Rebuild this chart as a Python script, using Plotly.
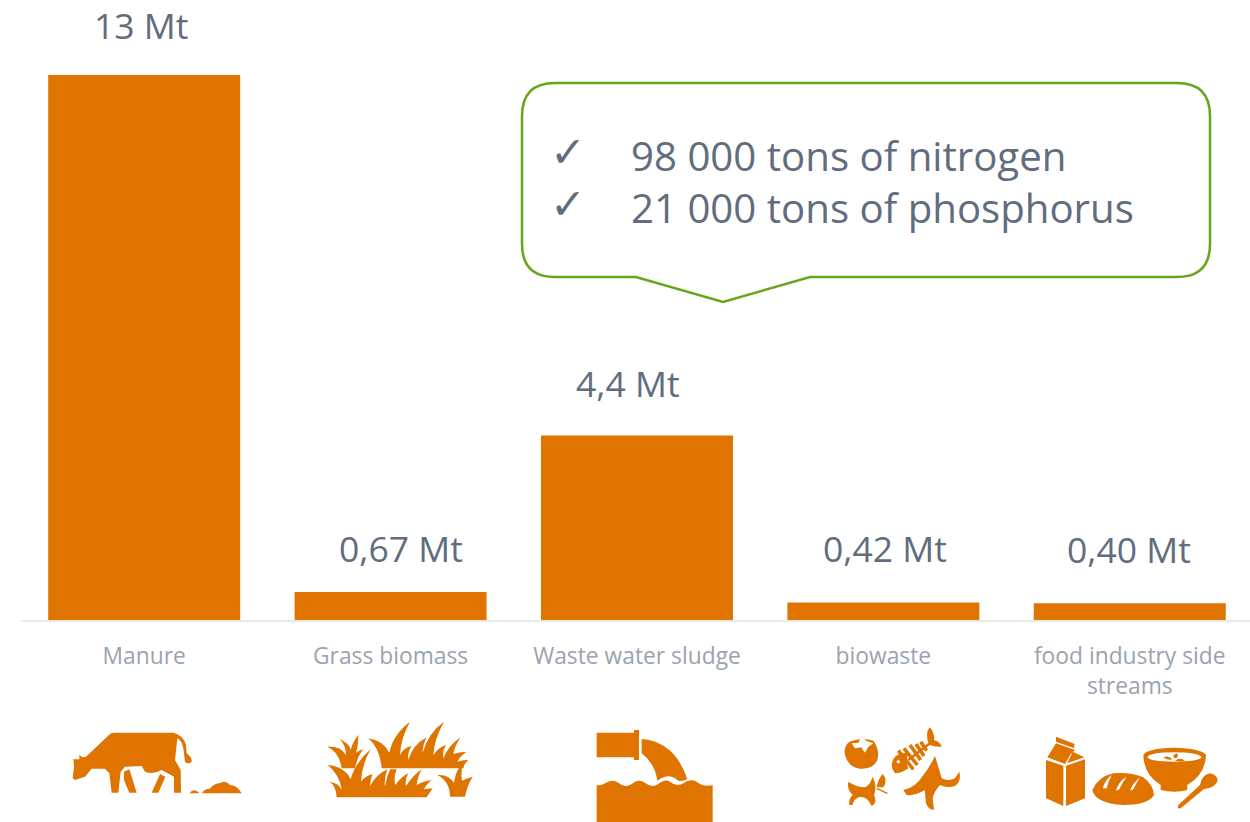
import re
import plotly.graph_objects as go

# ---------- data ----------
categories = ["Manure", "Grass biomass", "Waste water sludge", "biowaste", "food industry side<br>streams"]
values = [13, 0.67, 4.4, 0.42, 0.40]
value_labels = ["13 Mt", "0,67 Mt", "4,4 Mt", "0,42 Mt", "0,40 Mt"]
callout_lines = ["98 000 tons of nitrogen", "21 000 tons of phosphorus"]

# ---------- styles ----------
W, H = 1250, 822
ORANGE = "#df7400"
GREEN = "#69a51c"
TEXT = "#616d7e"
CAT = "#9aa3af"
FONT = "Open Sans, Noto Sans, sans-serif"
label_shift = [(-3, 50), (10, 44), (-9, 53), (2, 54), (-1, 54)]

fig = go.Figure(go.Bar(x=list(range(5)), y=values, marker=dict(color=ORANGE, line_width=0),
                       width=192 / 246.4, hoverinfo="skip"))

def P(x, y):
    return f"{x / W:.5f}", f"{1 - y / H:.5f}"

def tf(path, ox, oy):
    """Zoomed (3x) icon path -> paper coordinates."""
    nums = iter(re.findall(r"-?\d+\.?\d*|[A-Za-z]", path))
    out = []
    for tok in nums:
        if tok.isalpha():
            out.append(tok)
        else:
            x = ox + float(tok) / 3
            y = oy + float(next(nums)) / 3
            out.append(f"{x / W:.5f},{1 - y / H:.5f}")
    return " ".join(out)

shapes = []
def icon(path, ox, oy, color=ORANGE):
    shapes.append(dict(type="path", xref="paper", yref="paper", path=tf(path, ox, oy),
                       fillcolor=color, line=dict(width=0), layer="above"))
def stroke(path, ox, oy, width, color=ORANGE):
    shapes.append(dict(type="path", xref="paper", yref="paper", path=tf(path, ox, oy),
                       line=dict(color=color, width=width), layer="above"))

# cow and grass
o1 = (50, 710)
for p in [
    "M 70,148 L 88,148 L 88,134 L 97,142 L 108,140 L 180,72 Q 185,68 195,68 L 370,68 Q 400,75 408,105 L 410,130 Q 428,145 425,155 Q 415,165 405,155 L 400,115 Q 395,90 382,85 L 375,150 L 392,180 L 393,248 L 372,248 L 372,200 L 335,180 Q 310,195 285,185 L 275,168 L 225,170 L 212,185 L 205,248 L 185,248 L 178,190 L 165,176 L 125,176 L 105,200 L 75,210 L 68,205 L 72,170 Z",
    "M 222,185 L 238,178 L 260,248 L 238,248 L 222,210 Z",
    "M 330,192 L 346,200 L 325,248 L 305,248 Z",
    "M 418,250 Q 432,232 449,250 Z",
    "M 456,250 Q 460,236 480,236 Q 490,222 508,220 Q 525,208 540,225 Q 560,225 575,250 Z",
    "M 875,175 Q 868,125 832,110 Q 872,108 888,135 Q 888,108 870,88 Q 898,100 902,120 Q 908,95 925,75 Q 925,108 918,128 Q 928,120 940,118 Q 922,140 915,175 Z",
    "M 995,175 Q 990,115 955,85 Q 1000,92 1018,128 Q 1028,75 1080,35 Q 1052,85 1050,135 Q 1062,112 1085,108 Q 1072,125 1075,150 Q 1088,105 1130,82 Q 1118,105 1118,128 Q 1135,68 1182,35 Q 1152,88 1150,135 Q 1165,112 1188,105 Q 1176,122 1180,145 Q 1196,105 1232,82 Q 1214,108 1210,132 Q 1226,126 1250,125 Q 1228,140 1222,155 Q 1238,149 1255,150 Q 1243,160 1240,175 Z",
    "M 860,262 Q 858,225 838,215 Q 865,218 875,240 Q 870,195 833,165 Q 885,170 902,208 Q 915,158 962,118 Q 935,165 933,215 Q 944,198 968,192 Q 960,208 961,228 Q 976,195 1012,178 Q 1002,205 1005,230 Q 1010,200 1020,178 L 1040,178 Q 1030,205 1036,225 Q 1050,203 1075,190 Q 1064,208 1068,228 Q 1090,195 1115,178 Q 1102,202 1100,225 Q 1120,213 1145,210 Q 1127,225 1122,238 L 1148,235 L 1130,262 Z",
    "M 1200,260 Q 1200,215 1162,195 Q 1195,192 1212,218 Q 1216,188 1230,170 L 1238,160 Q 1232,192 1236,212 Q 1250,204 1268,200 Q 1252,225 1245,260 Z",
]:
    icon(p, *o1)

# pipe, tomato, fish, apple core, banana
o2 = (580, 710)
for p in [
    "M 50,68 L 162,68 L 162,60 L 177,60 L 177,150 L 162,150 L 162,142 L 50,142 Z",
    "M 185,87 Q 285,95 322,208 Q 305,215 295,212 Q 275,195 255,200 Q 240,205 232,212 Q 225,160 185,130 Z",
    "M 50,225 Q 62,228 75,220 Q 95,205 115,218 Q 135,235 155,222 Q 175,205 195,218 Q 215,235 235,222 Q 255,205 270,215 Q 290,232 310,220 Q 330,205 350,215 Q 370,232 398,225 L 398,336 L 50,336 Z",
    "M 808,95 Q 845,80 880,92 Q 900,120 892,150 Q 880,178 840,176 Q 805,172 795,135 Q 790,110 808,95 Z",
    "M 945,190 Q 925,165 945,140 Q 965,125 985,130 Q 975,160 985,175 Q 965,190 945,190 Z",
    "M 1045,98 Q 1035,65 1050,52 Q 1065,70 1062,90 Q 1080,95 1085,110 Q 1065,112 1050,105 Z",
    "M 1065,138 Q 1075,170 1085,205 Q 1105,215 1125,205 Q 1130,195 1138,185 Q 1145,215 1125,228 Q 1100,235 1080,225 Q 1062,245 1058,265 L 1062,300 Q 1045,300 1038,280 Q 1035,255 1035,240 Q 1005,258 980,255 L 970,240 Q 1005,235 1030,195 Q 1050,170 1065,138 Z",
    "M 805,215 Q 830,232 855,232 Q 870,225 878,200 Q 890,225 885,245 Q 880,255 885,265 Q 890,280 875,288 Q 860,255 835,262 Q 820,270 818,285 L 808,285 Q 805,265 818,255 Q 800,240 805,215 Z",
    "M 890,232 Q 895,205 908,192 Q 925,210 910,232 Z",
]:
    icon(p, *o2)
icon("M 815,100 L 835,98 L 845,78 L 858,92 L 880,100 L 865,110 L 855,128 L 843,112 L 825,115 Z", *o2, color="white")
icon("M 949,155 L 955,149 L 961,155 L 955,161 Z", *o2, color="white")
stroke("M 985,150 L 1050,100", *o2, 2.5)
for p in ["M 955,122 L 1000,178", "M 972,115 L 1012,165", "M 990,105 L 1022,150", "M 1008,102 L 1032,138", "M 1022,95 L 1040,122"]:
    stroke(p, *o2, 3.5)
stroke("M 890,235 L 922,250", *o2, 1.5)

# milk, bread, bowl, spoon
o3 = (1030, 720)
for p in [
    "M 48,120 L 100,137 L 100,258 L 48,235 Z",
    "M 108,137 L 165,118 L 165,235 L 108,258 Z",
    "M 52,112 L 78,70 L 135,90 L 122,103 L 105,132 Z",
    "M 112,130 L 128,95 L 163,112 Z",
    "M 78,50 L 134,72 L 132,85 L 78,65 Z",
    "M 187,210 Q 205,170 250,160 Q 300,155 340,172 Q 370,195 372,225 Q 355,255 280,255 Q 195,250 187,210 Z",
    "M 340,105 Q 350,85 432,83 Q 515,85 528,105 Q 525,165 472,195 L 472,210 Q 435,220 392,210 L 392,195 Q 342,165 340,105 Z",
    "M 445,255 L 510,195 Q 515,165 540,160 Q 565,165 562,185 Q 550,205 522,207 L 452,265 Q 440,268 445,255 Z",
]:
    icon(p, *o3)
for p in [
    "M 218,205 Q 225,180 245,165 Q 235,185 230,205 Z",
    "M 258,212 Q 265,185 290,170 Q 275,190 268,208 Z",
    "M 300,212 Q 308,190 330,172 Q 318,190 310,208 Z",
    "M 352,112 Q 360,97 432,97 Q 505,97 515,112 Q 505,125 432,125 Q 360,125 352,112 Z",
]:
    icon(p, *o3, color="white")
for p in ["M 400,112 Q 415,105 428,118 Q 410,122 400,112 Z", "M 430,112 Q 428,105 440,100 Q 448,108 438,115 Z", "M 435,122 Q 450,110 465,122 Q 450,127 435,122 Z"]:
    icon(p, *o3)

# callout bubble
L, R, T, B, r = 522, 1210, 83, 277, 33
pts = [("M", L + r, T), ("L", R - r, T), ("Q", R, T, R, T + r), ("L", R, B - r), ("Q", R, B, R - r, B),
       ("L", 810, B), ("L", 723, 302), ("L", 636, B), ("L", L + r, B), ("Q", L, B, L, B - r), ("L", L, T + r), ("Q", L, T, L + r, T)]
d = []
for c, *v in pts:
    d.append(c + " " + " ".join(f"{v[i] / W:.5f},{1 - v[i + 1] / H:.5f}" for i in range(0, len(v), 2)))
shapes.append(dict(type="path", xref="paper", yref="paper", path=" ".join(d) + " Z",
                   line=dict(color=GREEN, width=2.5), fillcolor="white", layer="above"))

ann = []
for i, (lab, v) in enumerate(zip(value_labels, values)):
    ann.append(dict(x=i, y=v, xref="x", yref="y", text=lab, showarrow=False, xanchor="center", yanchor="middle",
                    xshift=label_shift[i][0], yshift=label_shift[i][1], font=dict(family=FONT, size=35.5, color=TEXT)))
for line, cy in zip(callout_lines, [156, 208]):
    px, py = P(629, cy)
    ann.append(dict(x=float(px), y=float(py), xref="paper", yref="paper", text=line, showarrow=False,
                    xanchor="left", yanchor="middle", font=dict(family=FONT, size=40.2, color=TEXT)))
    px, py = P(568, cy - 4)
    ann.append(dict(x=float(px), y=float(py), xref="paper", yref="paper", text="\u2713", showarrow=False,
                    xanchor="center", yanchor="middle", font=dict(family="DejaVu Sans", size=43, color=TEXT)))

fig.update_layout(
    width=W, height=H, margin=dict(l=0, r=0, t=0, b=0), showlegend=False,
    paper_bgcolor="white", plot_bgcolor="white", shapes=shapes, annotations=ann,
    xaxis=dict(domain=[21 / W, 1], range=[-0.5, 4.488], tickmode="array", tickvals=list(range(5)), ticktext=categories,
               showline=True, linecolor="#e8e8e8", linewidth=2, showgrid=False, zeroline=False,
               ticks="outside", ticklen=15, tickcolor="rgba(0,0,0,0)",
               tickfont=dict(family=FONT, size=22.8, color=CAT)),
    yaxis=dict(domain=[1 - 620 / H, 1], range=[0, 620 / 545 * 13], visible=False),
)
fig.write_html("out.html", config=dict(displayModeBar=False), post_script="document.body.style.margin='0';")
